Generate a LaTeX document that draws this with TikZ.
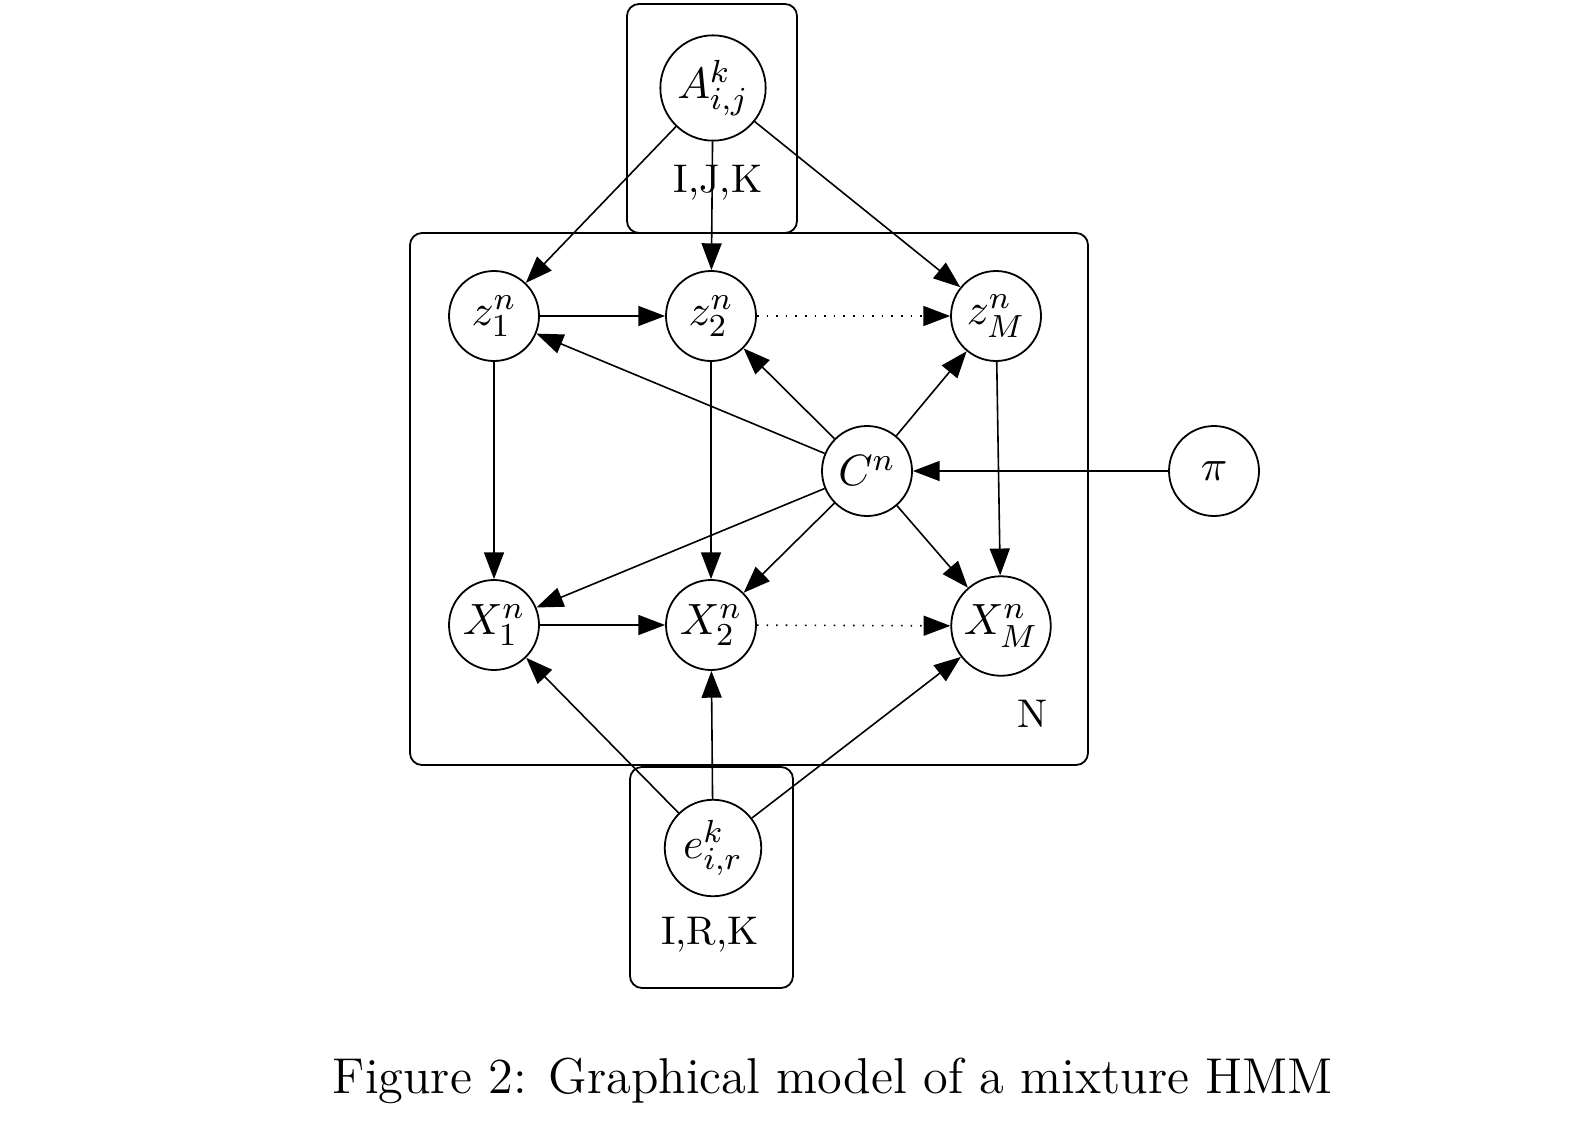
\documentclass[tikz,border=0pt]{standalone}
\usetikzlibrary{arrows.meta}
\begin{document}
\begin{tikzpicture}[x=0.25pt,y=-0.25pt,
  var/.style={circle,draw,line width=0.45pt,minimum size=22.5pt,inner sep=1.3pt,font=\fontsize{11}{13}\selectfont},
  plate/.style={draw,line width=0.45pt,rounded corners=3pt},
  edge/.style={line width=0.4pt,-{Triangle[length=6.7pt,width=5pt]}},
  dedge/.style={edge,dotted},
  lbl/.style={inner sep=0pt,font=\fontsize{10}{12}\selectfont}]
\useasboundingbox (0,0) rectangle (1572,1124);
% plates
\draw[plate] (627,4) rectangle (797,233);
\draw[plate] (410,233) rectangle (1088,765);
\draw[plate] (630,767) rectangle (793,988);
% nodes
\node[var] (A) at (713,88) {$A^k_{i,j}$};
\node[var] (z1) at (494,316) {$z^n_1$};
\node[var] (z2) at (711,316) {$z^n_2$};
\node[var] (zM) at (996,316) {$z^n_M$};
\node[var] (C) at (867,471) {$C^n$};
\node[var] (pi) at (1214,471) {$\pi$};
\node[var] (X1) at (494,625) {$X^n_1$};
\node[var] (X2) at (711,625) {$X^n_2$};
\node[var] (XM) at (1001,626) {$X^n_M$};
\node[var] (e) at (713,848) {$e^k_{i,r}$};
% labels
\node[lbl] (l1) at (718,183) {I,J,K};
\node[lbl] (l2) at (1032,714) {N};
\node[lbl] (l3) at (710,935) {I,R,K};
\node[inner sep=0pt,font=\fontsize{12.6}{15}\selectfont] (cap) at (833,1081) {Figure 2: Graphical model of a mixture HMM};
% edges
\draw[edge] (A) -- (z1);
\draw[edge] (A) -- (z2);
\draw[edge] (A) -- (zM);
\draw[edge] (z1) -- (z2);
\draw[dedge] (z2) -- (zM);
\draw[edge] (z1) -- (X1);
\draw[edge] (z2) -- (X2);
\draw[edge] (zM) -- (XM);
\draw[edge] (C) -- (z1);
\draw[edge] (C) -- (z2);
\draw[edge] (C) -- (zM);
\draw[edge] (C) -- (X1);
\draw[edge] (C) -- (X2);
\draw[edge] (C) -- (XM);
\draw[edge] (pi) -- (C);
\draw[edge] (X1) -- (X2);
\draw[dedge] (X2) -- (XM);
\draw[edge] (e) -- (X1);
\draw[edge] (e) -- (X2);
\draw[edge] (e) -- (XM);
\end{tikzpicture}
\end{document}
